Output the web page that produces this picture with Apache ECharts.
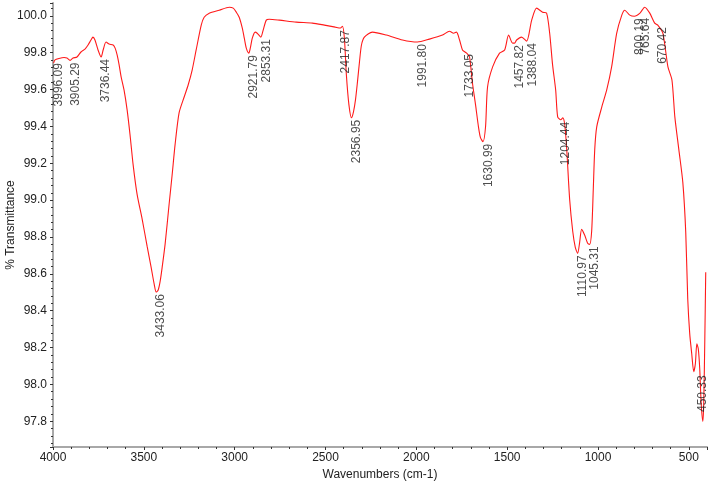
<!DOCTYPE html>
<html>
<head>
<meta charset="utf-8">
<script src="https://cdn.jsdelivr.net/npm/echarts@6/dist/echarts.min.js"></script>
<style>
html,body{margin:0;padding:0;background:#fff;}
#c{width:708px;height:486px;}
</style>
</head>
<body>
<div id="c"></div>
<script>
// Spectrum: wavenumber (cm-1) and % transmittance
const wavenumbers = [3997,3989,3967,3939,3923,3906,3890,3868,3846,3824,3807,3791,3780,3769,3752,3735,3724,3708,3691,3669,3658,3647,3636,3625,3609,3592,3576,3559,3537,3509,3482,3460,3443,3432,3421,3410,3399,3383,3361,3344,3328,3306,3278,3256,3234,3212,3184,3168,3140,3085,3030,3008,2991,2975,2958,2947,2936,2922,2914,2903,2887,2876,2856,2843,2826,2810,2754,2661,2572,2506,2446,2418,2407,2396,2385,2371,2357,2346,2335,2324,2313,2302,2286,2242,2165,2076,1994,1928,1856,1817,1795,1779,1762,1746,1732,1718,1707,1691,1674,1658,1647,1633,1619,1608,1580,1542,1514,1492,1470,1459,1448,1421,1393,1365,1338,1305,1283,1266,1250,1233,1222,1205,1194,1183,1172,1156,1139,1125,1112,1101,1090,1073,1057,1046,1035,1026,1018,1007,979,952,925,897,869,853,825,800,769,743,715,688,671,643,615,593,577,555,533,517,506,495,484,473,464,456,448,440,432,423,418,412,407];
const transmittance = [99.744,99.761,99.769,99.774,99.771,99.758,99.771,99.777,99.804,99.820,99.842,99.869,99.885,99.869,99.815,99.777,99.815,99.858,99.847,99.842,99.825,99.788,99.734,99.669,99.598,99.490,99.355,99.193,99.031,98.896,98.750,98.636,98.544,98.501,98.512,98.560,98.636,98.760,98.976,99.139,99.301,99.474,99.560,99.625,99.706,99.815,99.950,99.993,100.015,100.031,100.047,100.042,100.020,99.993,99.934,99.879,99.825,99.798,99.825,99.879,99.912,99.906,99.885,99.923,99.977,99.982,99.977,99.966,99.961,99.950,99.939,99.934,99.944,99.879,99.679,99.517,99.447,99.479,99.544,99.642,99.750,99.842,99.885,99.912,99.896,99.869,99.858,99.874,99.896,99.917,99.906,99.912,99.869,99.815,99.804,99.793,99.777,99.636,99.517,99.398,99.339,99.317,99.398,99.614,99.723,99.798,99.815,99.896,99.852,99.852,99.869,99.885,99.863,99.977,100.042,100.020,100.015,99.906,99.734,99.598,99.452,99.436,99.447,99.409,99.274,99.003,98.830,98.744,98.711,98.771,98.841,98.809,98.766,98.760,98.830,99.058,99.274,99.398,99.506,99.598,99.723,99.906,100.004,100.031,100.004,99.998,100.015,100.047,100.015,99.961,99.950,99.906,99.723,99.652,99.452,99.274,99.095,98.825,98.463,98.274,98.166,98.069,98.112,98.220,98.193,98.085,97.896,97.799,97.896,98.247,98.609];

// Peak annotations
const peakLabels = ["3996.09","3905.29","3736.44","3433.06","2921.79","2853.31","2417.87","2356.95","1991.80","1733.05","1630.99","1457.82","1388.04","1204.44","1110.97","1045.31","800.19","765.64","670.42","450.33"];
const peakValues = [99.755,99.758,99.777,98.501,99.798,99.885,99.934,99.447,99.858,99.804,99.317,99.852,99.863,99.436,98.711,98.760,99.998,100.0,99.950,98.06];

const xTicks = [4000,3500,3000,2500,2000,1500,1000,500];
const yTicks = [97.8,98.0,98.2,98.4,98.6,98.8,99.0,99.2,99.4,99.6,99.8,100.0];

const lineData = wavenumbers.map((w,i)=>[w, transmittance[i]]);
const peakData = peakLabels.map((s,i)=>({value:[parseFloat(s), peakValues[i]], name:s}));

const chart = echarts.init(document.getElementById('c'), null, {renderer:'canvas'});
const txt = '#222';
const font = 'Arial, "Liberation Sans", sans-serif';
chart.setOption({
  animation:false,
  backgroundColor:'#fff',
  grid:{left:53, right:1, top:3, bottom:39, containLabel:false, outerBoundsMode:'none'},
  xAxis:{
    type:'value', inverse:true, min:400, max:4000, splitNumber:7,
    name:'Wavenumbers (cm-1)', nameLocation:'middle', nameGap:22, nameMoveOverlap:false,
    nameTextStyle:{color:txt, fontSize:12, fontFamily:font},
    axisLine:{show:true, lineStyle:{color:'#a8a8a8', width:2}},
    axisTick:{show:true, length:3, inside:false, lineStyle:{color:'#333', width:1}},
    minorTick:{show:true, splitNumber:5, length:2, lineStyle:{color:'#333', width:1}},
    axisLabel:{color:txt, fontSize:12, fontFamily:font, margin:5,
      formatter:v=> xTicks.indexOf(v)>=0 ? String(v) : ''},
    splitLine:{show:false}
  },
  yAxis:{
    type:'value', min:97.66, max:100.07, splitNumber:12,
    name:'% Transmittance', nameLocation:'middle', nameGap:36, nameRotate:90, nameMoveOverlap:false,
    nameTextStyle:{color:txt, fontSize:12, fontFamily:font},
    axisLine:{show:true, lineStyle:{color:'#a8a8a8', width:2}},
    axisTick:{show:true, length:3, lineStyle:{color:'#333', width:1}},
    minorTick:{show:true, splitNumber:5, length:2, lineStyle:{color:'#333', width:1}},
    axisLabel:{color:txt, fontSize:12, fontFamily:font, margin:6,
      formatter:v=>{ const m = yTicks.find(t=>Math.abs(t-v)<1e-6); return m!==undefined ? m.toFixed(1) : ''; }},
    splitLine:{show:false}
  },
  series:[
    {type:'line', data:lineData, showSymbol:false, smooth:0.25,
     lineStyle:{color:'#ff1a1a', width:1.1}, z:2},
    {type:'scatter', data:peakData, symbolSize:0, z:3,
     label:{show:true, formatter:p=>p.name, rotate:90, position:[5,2],
       align:'right', verticalAlign:'middle', color:txt, fontSize:12, fontFamily:font}}
  ]
});
</script>
</body>
</html>
